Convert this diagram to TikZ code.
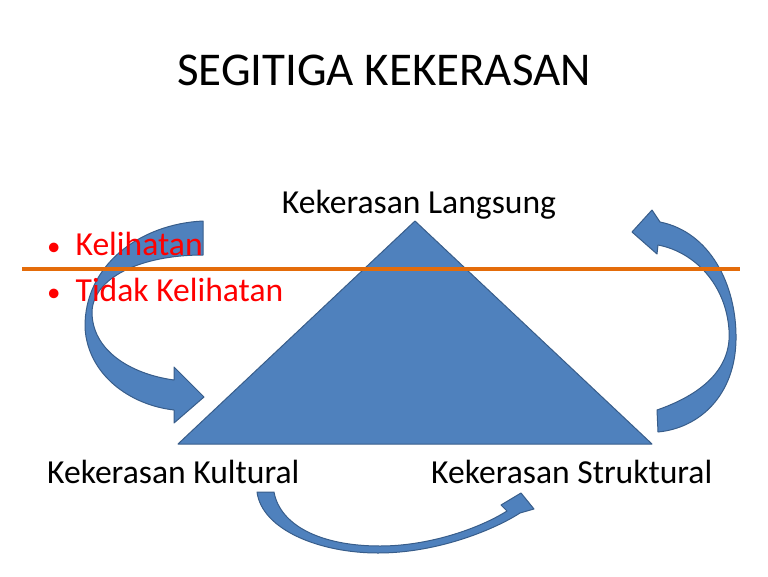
\documentclass[tikz,border=0pt]{standalone}
\usepackage{fontspec}
\setmainfont{Carlito}
\definecolor{triblue}{HTML}{4F81BD}
\definecolor{triedge}{HTML}{385D8A}
\definecolor{lineorange}{HTML}{E46C0A}
\definecolor{bulletred}{HTML}{FF0000}
\begin{document}
\begin{tikzpicture}[x=1pt,y=-1pt,
  shapefill/.style={fill=triblue,draw=triedge,line width=1pt,line join=round},
  label/.style={font=\fontsize{33.6}{40}\selectfont,inner sep=0pt,anchor=base},
  bullettext/.style={font=\fontsize{33.6}{40}\selectfont,text=bulletred,inner sep=0pt,anchor=base west}]
\useasboundingbox (0,0) rectangle (768,576);
% title
\node[font=\fontsize{47}{56}\selectfont,inner sep=0pt,anchor=base] (title) at (384,85) {SEGITIGA KEKERASAN};
% triangle
\coordinate (apex) at (415,221);
\coordinate (bl) at (178,444);
\coordinate (br) at (652,444);
\path[shapefill] (apex) -- (br) -- (bl) -- cycle;
% labels
\node[label] (langsung) at (419,213) {Kekerasan Langsung};
\node[label,anchor=base west] (kultural) at (47,483) {Kekerasan Kultural};
\node[label,anchor=base west] (struktural) at (431,483) {Kekerasan Struktural};
% left curved arrow
\path[shapefill] (203,221) .. controls (140,224) and (84,265) .. (85,328)
  .. controls (88,375) and (130,405) .. (174,410)
  -- (174,423) -- (204,397) -- (174,367) -- (174,380)
  .. controls (130,374) and (92,350) .. (92,312)
  .. controls (93,278) and (140,255) .. (203,255) -- cycle;
% right curved arrow
\path[shapefill] (658,432) -- (657,410)
  .. controls (700,395) and (732,370) .. (729,330)
  .. controls (726,285) and (695,252) .. (658,245)
  -- (657,254) -- (632,232) -- (652,210) -- (660,222)
  .. controls (710,232) and (737,285) .. (736,340)
  .. controls (735,395) and (700,428) .. (658,432) -- cycle;
% bottom curved arrow
\path[shapefill] (257,492)
  .. controls (262,530) and (320,553) .. (378,553)
  .. controls (440,553) and (497,528) .. (520,513)
  -- (534,509) -- (521,493) -- (501,505) -- (507,511)
  .. controls (480,528) and (430,546) .. (380,546)
  .. controls (320,546) and (280,525) .. (274,492) -- cycle;
% bullets
\node[bullettext] (kelihatan) at (47,255) {{\fontsize{27}{30}\selectfont •}\hspace{15pt}Kelihatan};
\node[bullettext] (tidak) at (47,301) {{\fontsize{27}{30}\selectfont •}\hspace{15pt}Tidak Kelihatan};
% orange line
\coordinate (lineL) at (22,269);
\coordinate (lineR) at (740,269);
\draw[lineorange,line width=3.5pt] (lineL) -- (lineR);
\end{tikzpicture}
\end{document}
